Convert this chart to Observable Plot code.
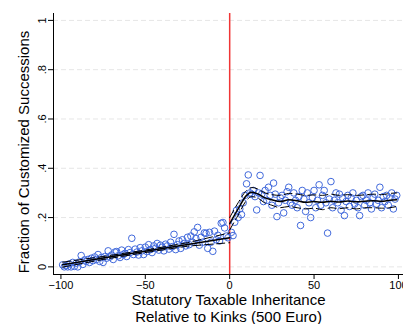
<!DOCTYPE html>
<html>
<head>
<meta charset="utf-8">
<script src="https://cdn.jsdelivr.net/npm/d3@7"></script>
<script src="https://cdn.jsdelivr.net/npm/@observablehq/plot@0.6"></script>
<style>
  html, body { margin: 0; padding: 0; background: #fff; }
  svg { font-family: "Liberation Sans", Arial, Helvetica, sans-serif; }
</style>
</head>
<body>
<div id="chart"></div>
<script>
// Binned scatter: x = distance to kink (500 Euro bins), y = fraction customized
const leftX = d3.range(-99, 0);
const leftY = [0.008,0.0,0.005,0.0,0.012,0.0,0.018,0.002,0.015,0.0,
  0.02,0.046,0.01,0.028,0.022,0.03,0.018,0.035,0.025,0.04,
  0.03,0.05,0.022,0.038,0.018,0.042,0.035,0.065,0.04,0.048,
  0.03,0.06,0.062,0.045,0.038,0.068,0.05,0.055,0.042,0.07,
  0.058,0.116,0.05,0.072,0.06,0.048,0.078,0.065,0.05,0.08,
  0.062,0.09,0.07,0.058,0.085,0.075,0.095,0.068,0.088,0.08,
  0.065,0.092,0.085,0.072,0.1,0.082,0.132,0.07,0.09,0.105,
  0.075,0.11,0.095,0.085,0.12,0.09,0.125,0.1,0.142,0.115,
  0.16,0.088,0.12,0.1,0.138,0.136,0.075,0.14,0.1,0.063,
  0.145,0.11,0.128,0.105,0.177,0.18,0.158,0.125,0.118];
const rightX = d3.range(1, 100);
const rightY = [0.14,0.127,0.181,0.229,0.2,0.235,0.212,0.26,0.29,0.337,
  0.373,0.3,0.295,0.31,0.285,0.231,0.3,0.371,0.295,0.265,
  0.31,0.27,0.323,0.29,0.25,0.34,0.295,0.204,0.26,0.28,
  0.29,0.219,0.27,0.305,0.323,0.26,0.25,0.3,0.27,0.24,
  0.285,0.168,0.31,0.275,0.225,0.3,0.26,0.2,0.28,0.31,
  0.24,0.27,0.333,0.25,0.29,0.31,0.26,0.137,0.275,0.346,
  0.24,0.27,0.3,0.26,0.295,0.23,0.28,0.208,0.265,0.29,
  0.245,0.28,0.3,0.255,0.27,0.24,0.208,0.285,0.29,0.25,
  0.27,0.3,0.26,0.235,0.28,0.295,0.255,0.27,0.323,0.24,
  0.285,0.265,0.29,0.25,0.28,0.3,0.235,0.275,0.29];

// Fitted lines with confidence bands
const fitLeftX  = [-99, -75, -50, -25, 0];
const fitLeftY  = [0.009, 0.036, 0.063, 0.091, 0.118];
const fitLeftLo = [-0.001, 0.030, 0.058, 0.084, 0.098];
const fitLeftHi = [0.019, 0.042, 0.068, 0.098, 0.138];

const fitRightX  = [0, 5, 10, 13, 17, 20, 25, 30, 35, 40, 45, 50, 55, 60, 65, 70, 75, 80, 85, 90, 95, 99];
const fitRightY  = [0.175,0.235,0.29,0.303,0.295,0.283,0.272,0.265,0.272,0.268,0.262,0.265,0.262,0.266,0.263,0.267,0.264,0.266,0.268,0.266,0.27,0.272];
const fitRightLo = [0.15,0.21,0.27,0.285,0.278,0.263,0.25,0.24,0.245,0.24,0.235,0.238,0.232,0.24,0.236,0.24,0.235,0.24,0.24,0.238,0.24,0.245];
const fitRightHi = [0.2,0.26,0.31,0.322,0.315,0.303,0.293,0.29,0.298,0.295,0.29,0.292,0.29,0.295,0.29,0.293,0.29,0.292,0.295,0.293,0.298,0.3];

const xTicks = [-100, -50, 0, 50, 100];
const yTicks = [0, 0.2, 0.4, 0.6, 0.8, 1];
const yTickLabels = ["0", ".2", ".4", ".6", ".8", "1"];
const yLabel = "Fraction of Customized Successions";
const xLabel = "Statutory Taxable Inheritance\nRelative to Kinks (500 Euro)";

const xDomain = [-104.4, 103];
const yDomain = [-0.031, 1.028];

const pts = leftX.map((x, i) => ({x, y: leftY[i]}))
  .concat(rightX.map((x, i) => ({x, y: rightY[i]})));
const mk = (xs, ys) => xs.map((x, i) => ({x, y: ys[i]}));

const chart = Plot.plot({
  width: 403,
  height: 324,
  marginLeft: 53,
  marginRight: 0,
  marginTop: 13,
  marginBottom: 50,
  style: {background: "#fff", fontFamily: "'Liberation Sans', Arial, Helvetica, sans-serif"},
  x: {domain: xDomain, axis: null},
  y: {domain: yDomain, axis: null},
  marks: [
    Plot.ruleY(yTicks, {stroke: "#e6e6e6", strokeDasharray: "5,3", strokeWidth: 1}),
    Plot.ruleX([0], {stroke: "#f03535", strokeWidth: 1.5}),
    Plot.dot(pts, {x: "x", y: "y", r: 3.3, stroke: "#4169dc", strokeWidth: 1, fill: "none"}),
    Plot.line(mk(fitLeftX, fitLeftLo), {x: "x", y: "y", stroke: "#000", strokeWidth: 1, strokeDasharray: "8,4"}),
    Plot.line(mk(fitLeftX, fitLeftHi), {x: "x", y: "y", stroke: "#000", strokeWidth: 1, strokeDasharray: "8,4"}),
    Plot.line(mk(fitLeftX, fitLeftY), {x: "x", y: "y", stroke: "#000", strokeWidth: 1.5}),
    Plot.line(mk(fitRightX, fitRightLo), {x: "x", y: "y", stroke: "#000", strokeWidth: 1, strokeDasharray: "8,4", curve: "monotone-x"}),
    Plot.line(mk(fitRightX, fitRightHi), {x: "x", y: "y", stroke: "#000", strokeWidth: 1, strokeDasharray: "8,4", curve: "monotone-x"}),
    Plot.line(mk(fitRightX, fitRightY), {x: "x", y: "y", stroke: "#000", strokeWidth: 1.5, curve: "monotone-x"}),
    Plot.ruleX([xDomain[0]], {stroke: "#000", strokeWidth: 1}),
    Plot.ruleY([yDomain[0]], {stroke: "#000", strokeWidth: 1}),
    Plot.axisX({ticks: xTicks, tickSize: 5, tickPadding: 2, fontSize: 11, label: null, color: "#000"}),
    Plot.axisY({ticks: yTicks, tickSize: 5, tickPadding: 3, tickRotate: -90, fontSize: 11, label: null, color: "#000",
      tickFormat: d => yTickLabels[yTicks.indexOf(d)]}),
    Plot.text([yLabel], {frameAnchor: "left", textAnchor: "middle", rotate: -90, dx: -29, dy: 8, fontSize: 15, fill: "#000"}),
    Plot.text([xLabel], {frameAnchor: "bottom", lineAnchor: "top", dy: 19, lineHeight: 1.1, fontSize: 15, fill: "#000"})
  ]
});
document.getElementById("chart").appendChild(chart);
</script>
</body>
</html>
